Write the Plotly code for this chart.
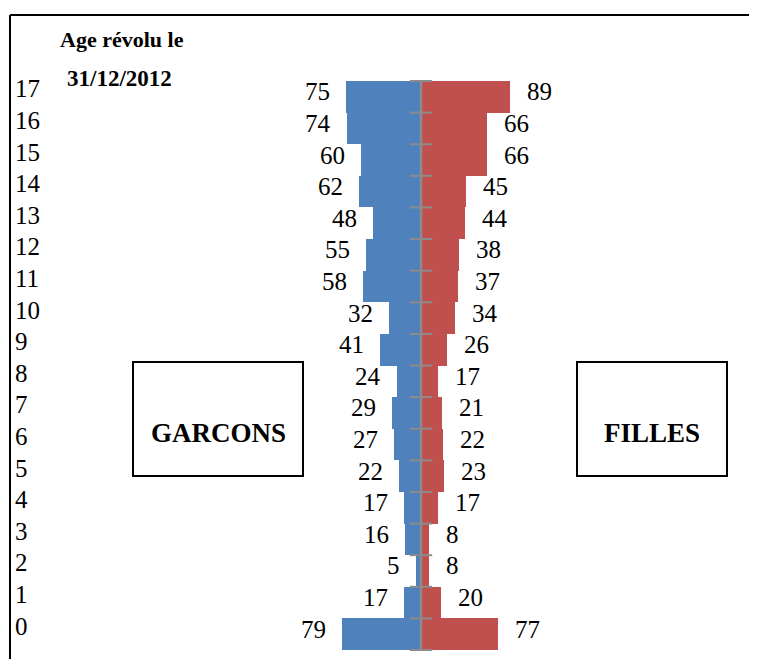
import plotly.graph_objects as go

ages = list(range(18))
boys = [79, 17, 5, 16, 17, 22, 27, 29, 24, 41, 32, 58, 55, 48, 62, 60, 74, 75]
girls = [77, 20, 8, 8, 17, 23, 22, 21, 17, 26, 34, 37, 38, 44, 45, 66, 66, 89]
age_labels = [str(a) for a in ages]
title_lines = ["Age révolu le", "31/12/2012"]
box_labels = ["GARCONS", "FILLES"]

W, H = 757, 659
OFF = 8  # page body margin
BLUE = "#4F81BD"
RED = "#C0504D"
GREY = "#8C8C8C"
SERIF = "Liberation Serif"


def px(x):
    return (x - OFF) / W


def py(y):
    return 1 - (y - OFF) / H


fig = go.Figure()
fig.add_trace(go.Bar(y=ages, x=[-b for b in boys], orientation="h",
                     marker=dict(color=BLUE, line=dict(width=0)), width=1, hoverinfo="skip"))
fig.add_trace(go.Bar(y=ages, x=girls, orientation="h",
                     marker=dict(color=RED, line=dict(width=0)), width=1, hoverinfo="skip"))

# central axis and ticks between rows
bounds = [a - 0.5 for a in ages] + [ages[-1] + 0.5]
fig.add_trace(go.Scatter(x=[0, 0], y=[bounds[0], bounds[-1]], mode="lines",
                         line=dict(color=GREY, width=2.5), hoverinfo="skip"))
fig.add_trace(go.Scatter(x=[0] * len(bounds), y=bounds, mode="markers",
                         marker=dict(symbol="line-ew", size=16, line=dict(color=GREY, width=2)),
                         hoverinfo="skip"))

ann = []
for a, b, g in zip(ages, boys, girls):
    ann.append(dict(x=-b, y=a, xref="x", yref="y", text=str(b), showarrow=False,
                    xanchor="right", yanchor="middle", xshift=-14, yshift=5,
                    font=dict(family=SERIF, size=25, color="black")))
    ann.append(dict(x=g, y=a, xref="x", yref="y", text=str(g), showarrow=False,
                    xanchor="left", yanchor="middle", xshift=15, yshift=5,
                    font=dict(family=SERIF, size=25, color="black")))
for a, lab in zip(ages, age_labels):
    ann.append(dict(x=px(13), y=a, xref="paper", yref="y", text=lab, showarrow=False,
                    xanchor="left", yanchor="middle", yshift=8,
                    font=dict(family=SERIF, size=25, color="black")))
ann.append(dict(x=px(58), y=py(40), xref="paper", yref="paper", text="<b>%s</b>" % title_lines[0],
                showarrow=False, xanchor="left", yanchor="middle",
                font=dict(family=SERIF, size=22, color="black")))
ann.append(dict(x=px(65), y=py(78), xref="paper", yref="paper", text="<b>%s</b>" % title_lines[1],
                showarrow=False, xanchor="left", yanchor="middle",
                font=dict(family=SERIF, size=23, color="black")))

boxes = [(133, 303), (577, 727)]
shapes = []
for (x0, x1), lab in zip(boxes, box_labels):
    shapes.append(dict(type="rect", xref="paper", yref="paper", x0=px(x0), x1=px(x1),
                       y0=py(476), y1=py(362), line=dict(color="black", width=2),
                       fillcolor="white", layer="below"))
    ann.append(dict(x=px((x0 + x1) / 2), y=py(433), xref="paper", yref="paper",
                    text="<b>%s</b>" % lab, showarrow=False, xanchor="center", yanchor="middle",
                    font=dict(family=SERIF, size=27, color="black")))

# frame
shapes.append(dict(type="line", xref="paper", yref="paper", x0=px(10), x1=px(10),
                   y0=py(700), y1=py(15), line=dict(color="black", width=2)))
shapes.append(dict(type="line", xref="paper", yref="paper", x0=px(10), x1=1,
                   y0=py(15), y1=py(15), line=dict(color="black", width=2)))

# 1 px per unit horizontally; rows of ~31.6 px
CX = 421 - OFF
TOP, BOT = 81 - OFF, 650 - OFF
row_px = (BOT - TOP) / 18.0
y_low = -0.5 - (H - BOT) / row_px
y_high = -0.5 + BOT / row_px

fig.update_layout(
    width=W, height=H, margin=dict(l=0, r=0, t=0, b=0),
    paper_bgcolor="white", plot_bgcolor="white",
    barmode="relative", bargap=0, showlegend=False,
    xaxis=dict(range=[-CX, W - CX], visible=False, fixedrange=True),
    yaxis=dict(range=[y_low, y_high], visible=False, fixedrange=True),
    annotations=ann, shapes=shapes,
)

fig.write_html("out.html")
